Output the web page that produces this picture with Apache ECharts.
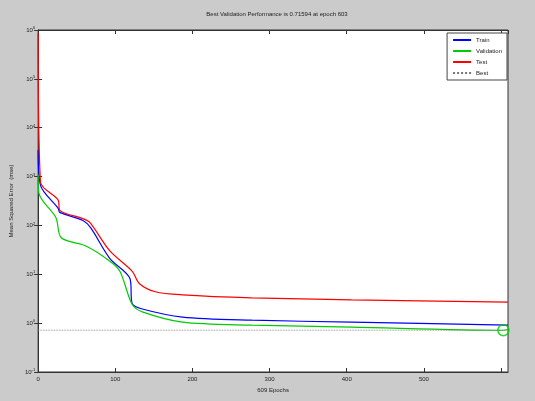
<!DOCTYPE html>
<html><head><meta charset="utf-8">
<script src="https://cdn.jsdelivr.net/npm/echarts@6/dist/echarts.min.js"></script>
<style>html,body{margin:0;padding:0;background:#cbcbcb;}#c{width:535px;height:401px;}</style>
</head><body><div id="c"></div>
<script>
const titleText = 'Best Validation Performance is 0.71594 at epoch 603';
const xLabel = '609 Epochs';
const yLabel = 'Mean Squared Error  (mse)';
const xMax = 609;
const xTickLabels = [0, 100, 200, 300, 400, 500];
const bestEpoch = 603;
const bestValue = 0.71594;

const trainEpochs = [0, 3, 26, 28, 58, 68, 93, 119, 122, 135, 187, 277, 406, 609];
const trainValues = [3500, 670, 224, 185, 126, 90, 21, 8.2, 2.5, 1.95, 1.33, 1.15, 1.05, 0.91];

const valEpochs = [0, 1, 23, 30, 62, 93, 106, 122, 135, 187, 277, 406, 603, 609];
const valValues = [1100, 460, 145, 56, 38, 18.5, 11.5, 2.4, 1.7, 1.05, 0.91, 0.83, 0.716, 0.74];

const testEpochs = [0, 3, 26, 28, 58, 67, 93, 122, 131, 152, 187, 277, 406, 609];
const testValues = [850000, 775, 330, 204, 138, 115, 30, 11.5, 6.5, 4.4, 3.8, 3.3, 3.0, 2.7];

const zip = (a, b) => a.map((v, i) => [v, b[i]]);
const chart = echarts.init(document.getElementById('c'));
const sup = v => {
  const e = Math.round(Math.log10(v));
  return '{b|10}{s|' + e + '}';
};
chart.setOption({
  backgroundColor: '#cbcbcb',
  animation: false,
  title: { text: titleText, left: 272, top: 6, textAlign: 'center',
    textStyle: { fontSize: 6, fontWeight: 'normal', color: '#222', fontFamily: 'Liberation Sans' } },
  grid: { left: 35, top: 30, right: 27, bottom: 29, show: true, backgroundColor: '#fff', borderColor: '#333', borderWidth: 1 },
  legend: {
    orient: 'vertical', right: 28, top: 33, backgroundColor: '#fff', borderColor: '#444', borderWidth: 1,
    padding: [4, 5, 4, 5], itemGap: 5, itemWidth: 18, itemHeight: 6,
    itemStyle: { opacity: 0 },
    textStyle: { fontSize: 6, color: '#222', fontFamily: 'Liberation Sans' },
    data: ['Train', 'Validation', 'Test', 'Best']
  },
  xAxis: [{
    type: 'value', min: 0, max: xMax, interval: 100,
    name: xLabel, nameLocation: 'middle', nameGap: 13,
    nameTextStyle: { fontSize: 6, color: '#222', fontFamily: 'Liberation Sans' },
    axisLine: { show: true, onZero: false, lineStyle: { color: '#333' } },
    axisTick: { inside: true, length: 4, lineStyle: { color: '#333' } },
    axisLabel: { fontSize: 6, color: '#222', margin: 4, showMaxLabel: false,
      formatter: v => xTickLabels.includes(v) ? String(v) : '' },
    splitLine: { show: false }
  }, {
    type: 'value', min: 0, max: xMax, interval: 100, position: 'top',
    axisLine: { show: true, lineStyle: { color: '#333' } },
    axisTick: { inside: true, length: 4, lineStyle: { color: '#333' } },
    axisLabel: { show: false }, splitLine: { show: false }
  }],
  yAxis: [{
    type: 'log', logBase: 10, min: 0.1, max: 1e6,
    name: yLabel, nameLocation: 'middle', nameGap: 21, nameRotate: 90,
    nameTextStyle: { fontSize: 6, color: '#222', fontFamily: 'Liberation Sans' },
    axisLine: { show: true, lineStyle: { color: '#333' } },
    axisTick: { inside: true, length: 4, lineStyle: { color: '#333' } },
    axisLabel: { formatter: sup, margin: 3,
      rich: { b: { fontSize: 6, color: '#222' }, s: { fontSize: 4, color: '#222', verticalAlign: 'top', padding: [0, 0, 4, 0] } } },
    splitLine: { show: false }
  }, {
    type: 'log', logBase: 10, min: 0.1, max: 1e6, position: 'right',
    axisLine: { show: true, lineStyle: { color: '#333' } },
    axisTick: { inside: true, length: 4, lineStyle: { color: '#333' } },
    axisLabel: { show: false }, splitLine: { show: false }
  }],
  series: [
    { name: 'Train', type: 'line', data: zip(trainEpochs, trainValues), symbol: 'none', smooth: 0.3,
      lineStyle: { color: '#0000ff', width: 1.2 }, itemStyle: { color: '#0000ff' } },
    { name: 'Validation', type: 'line', data: zip(valEpochs, valValues), symbol: 'none', smooth: 0.3,
      lineStyle: { color: '#00cc00', width: 1.2 }, itemStyle: { color: '#00cc00' } },
    { name: 'Test', type: 'line', data: zip(testEpochs, testValues), symbol: 'none', smooth: 0.3,
      lineStyle: { color: '#ff0000', width: 1.2 }, itemStyle: { color: '#ff0000' } },
    { name: 'Best', type: 'line', data: [[0, bestValue], [xMax, bestValue]], symbol: 'none',
      lineStyle: { color: '#777', width: 0.8, type: 'dotted' }, itemStyle: { color: '#777' } },
    { name: 'BestPoint', type: 'scatter', data: [[bestEpoch, bestValue]], symbol: 'circle', symbolSize: 11,
      itemStyle: { color: 'rgba(0,0,0,0)', borderColor: '#00cc00', borderWidth: 1.5 }, z: 5 }
  ]
});
</script></body></html>
